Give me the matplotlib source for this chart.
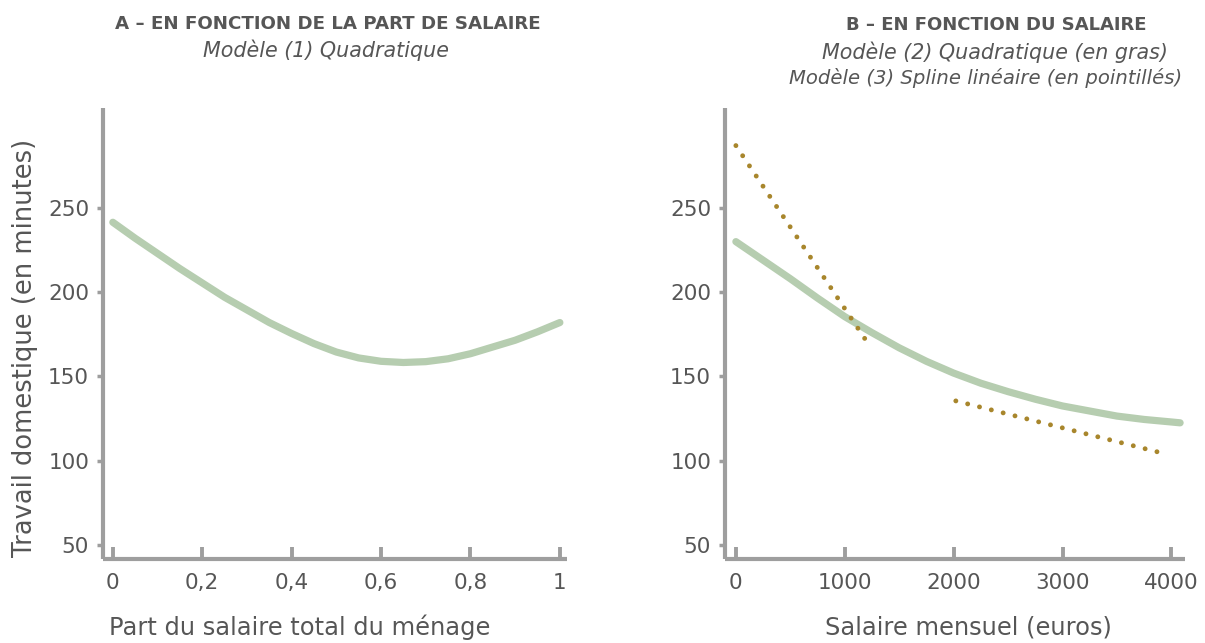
import numpy as np
import matplotlib.pyplot as plt

# panel A: part du salaire -> travail domestique (modele 1, quadratique)
part = [0, 0.05, 0.1, 0.15, 0.2, 0.25, 0.3, 0.35, 0.4, 0.45, 0.5,
        0.55, 0.6, 0.65, 0.7, 0.75, 0.8, 0.85, 0.9, 0.95, 1.0]
travail_a = [241.5, 232, 223, 214, 205.5, 197, 189.5, 182, 175.5, 169.5, 164.5,
             161, 159, 158.3, 158.8, 160.5, 163.5, 167.5, 171.5, 176.5, 182]

# panel B: salaire mensuel (modele 2 quadratique, modele 3 spline)
salaire = [0, 250, 500, 750, 1000, 1250, 1500, 1750, 2000, 2250, 2500,
           2750, 3000, 3250, 3500, 3750, 4000, 4080]
travail_b = [230, 219, 208, 196.5, 185.5, 176, 167, 159, 152, 146, 141,
             136.5, 132.5, 129.5, 126.5, 124.5, 123, 122.5]
spline1_x = [0, 1220]
spline1_y = [287, 169]
spline2_x = [2020, 3950]
spline2_y = [135.5, 104]

xticks_a = [0, 0.2, 0.4, 0.6, 0.8, 1]
xlabels_a = ["0", "0,2", "0,4", "0,6", "0,8", "1"]
xticks_b = [0, 1000, 2000, 3000, 4000]
xlabels_b = ["0", "1000", "2000", "3000", "4000"]
yticks = [50, 100, 150, 200, 250]

grey = '#9e9e9e'
txt = '#565656'
green = '#b6cdb0'
gold = '#a8862c'

plt.rcParams['font.family'] = ['DejaVu Sans']

fig = plt.figure(figsize=(12.05, 6.43), dpi=100)
W, H = 1205, 643

def make_ax(x0, x1, y0=108, y1=559):
    return fig.add_axes([x0 / W, 1 - y1 / H, (x1 - x0) / W, (y1 - y0) / H])

def put_text(x, y, s, width, **kw):
    # place text (pixel coords from top-left) and scale font to a target width
    t = fig.text(x / W, 1 - y / H, s, ha='center', va='center', color=txt, **kw)
    r = fig.canvas.get_renderer()
    bb = t.get_window_extent(r)
    t.set_fontsize(t.get_fontsize() * width / max(bb.width, bb.height))
    return t

ax1 = make_ax(103, 567)
ax2 = make_ax(725, 1185)

for ax in (ax1, ax2):
    for s in ('top', 'right'):
        ax.spines[s].set_visible(False)
    for s in ('left', 'bottom'):
        ax.spines[s].set_color(grey)
        ax.spines[s].set_linewidth(3)
        ax.spines[s].set_capstyle('butt')
    ax.set_ylim(41.7, 309.3)
    ax.set_yticks(yticks)
    ax.tick_params(axis='y', direction='out', length=4, width=2.5, color=grey,
                   labelsize=15.5, labelcolor=txt, pad=6)
    ax.tick_params(axis='x', direction='in', length=9, width=2.8, color=grey,
                   labelsize=15.5, labelcolor=txt, pad=10)

ax1.plot(part, travail_a, color=green, lw=5.2, solid_capstyle='round')
ax1.set_xlim(-0.022, 1.016)
ax1.set_xticks(xticks_a)
ax1.set_xticklabels(xlabels_a)

ax2.plot(salaire, travail_b, color=green, lw=5.2, solid_capstyle='round')
for xs, ys in ((spline1_x, spline1_y), (spline2_x, spline2_y)):
    ax2.plot(xs, ys, color=gold, lw=3.5, linestyle=(0, (0.01, 2.5)),
             dash_capstyle='round')
ax2.set_xlim(-100, 4125)
ax2.set_xticks(xticks_b)
ax2.set_xticklabels(xlabels_b)

# titres
put_text(328, 24, "A – EN FONCTION DE LA PART DE SALAIRE", 429, fontweight='bold')
put_text(326, 50, "Modèle (1) Quadratique", 245, style='italic')
put_text(996, 25, "B – EN FONCTION DU SALAIRE", 302, fontweight='bold')
put_text(995, 52, "Modèle (2) Quadratique (en gras)", 345, style='italic')
put_text(986, 78, "Modèle (3) Spline linéaire (en pointillés)", 390, style='italic')

put_text(25, 348, "Travail domestique (en minutes)", 417, rotation=90)
put_text(300, 627, "Part du salaire total du ménage", 381)
put_text(968, 628, "Salaire mensuel (euros)", 287)

fig.savefig('out.png', dpi=100)
